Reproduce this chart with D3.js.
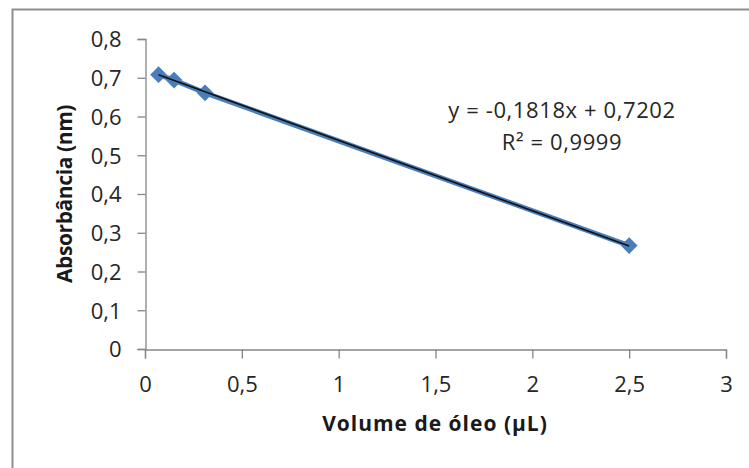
<!DOCTYPE html>
<html>
<head>
<meta charset="utf-8">
<script src="https://cdn.jsdelivr.net/npm/d3@7"></script>
<style>
  body { margin: 0; background: #fff; }
  text { font-family: "Open Sans", sans-serif; }
</style>
</head>
<body>
<div id="chart"></div>
<script>
// data
const volume = [0.07, 0.15, 0.31, 2.5];
const absorbance = [0.708, 0.694, 0.661, 0.267];
const xTicks = [0, 0.5, 1, 1.5, 2, 2.5, 3];
const yTicks = [0, 0.1, 0.2, 0.3, 0.4, 0.5, 0.6, 0.7, 0.8];
const slope = -0.1818;
const intercept = 0.7202;

const width = 749;
const height = 468;
const AXIS_COLOR = "#868686";
const MARK_COLOR = "#4a7ebb";

const fmt = d => String(d).replace(".", ",");

let svg = d3.select("#chart")
  .append("svg")
  .attr("width", width)
  .attr("height", height);

// chart frame (only top and left edges are inside the picture)
svg.append("path")
  .attr("d", `M12.5,${height} V9.5 H${width}`)
  .attr("fill", "none")
  .attr("stroke", "#8e8e8e")
  .attr("stroke-width", 2);

let x = d3.scaleLinear().domain([0, 3]).range([145, 726]);
let y = d3.scaleLinear().domain([0, 0.8]).range([349, 39]);

// y axis
let yAxis = svg.append("g")
  .attr("transform", "translate(145.5,0)")
  .call(d3.axisLeft(y).tickValues(yTicks).tickFormat(fmt).tickSize(8).tickPadding(16));
// x axis
let xAxis = svg.append("g")
  .attr("transform", "translate(0,349.5)")
  .call(d3.axisBottom(x).tickValues(xTicks).tickFormat(fmt).tickSize(9).tickPadding(17));

[yAxis, xAxis].forEach(function (g) {
  g.select(".domain").attr("stroke", AXIS_COLOR).attr("stroke-width", 1.3);
  g.selectAll(".tick line").attr("stroke", AXIS_COLOR).attr("stroke-width", 1.3);
  g.selectAll(".tick text")
    .attr("fill", "#262626")
    .style("font-size", "22px")
    .style("font-family", "'Open Sans', sans-serif");
});
xAxis.selectAll(".tick text").attr("dy", "0.75em");
yAxis.selectAll(".tick text").attr("dy", "0.36em");

let pts = volume.map((v, i) => [v, absorbance[i]]);

// series line
svg.append("path")
  .datum(pts)
  .attr("d", d3.line().x(d => x(d[0])).y(d => y(d[1])))
  .attr("fill", "none")
  .attr("stroke", MARK_COLOR)
  .attr("stroke-width", 5);

// markers
svg.append("g")
  .selectAll("path")
  .data(pts)
  .join("path")
  .attr("d", d3.symbol().type(d3.symbolDiamond2).size(180))
  .attr("transform", d => `translate(${x(d[0])},${y(d[1])})`)
  .attr("fill", MARK_COLOR);

// linear trendline
let x0 = d3.min(volume), x1 = d3.max(volume);
svg.append("line")
  .attr("x1", x(x0)).attr("y1", y(slope * x0 + intercept))
  .attr("x2", x(x1)).attr("y2", y(slope * x1 + intercept))
  .attr("stroke", "#111")
  .attr("stroke-width", 1.6);

// equation label
svg.append("text")
  .attr("x", 562).attr("y", 118)
  .attr("text-anchor", "middle")
  .style("font-size", "22px")
  .style("letter-spacing", "0.6px")
  .attr("fill", "#262626")
  .text("y = -0,1818x + 0,7202");
svg.append("text")
  .attr("x", 562).attr("y", 150)
  .attr("text-anchor", "middle")
  .style("font-size", "22px")
  .style("letter-spacing", "0.6px")
  .attr("fill", "#262626")
  .text("R² = 0,9999");

// axis titles
svg.append("text")
  .attr("x", 435).attr("y", 431)
  .attr("text-anchor", "middle")
  .style("font-size", "21px")
  .style("font-weight", "bold")
  .style("letter-spacing", "1px")
  .attr("fill", "#1a1a1a")
  .text("Volume de óleo (µL)");
svg.append("text")
  .attr("transform", "translate(72,194) rotate(-90)")
  .attr("text-anchor", "middle")
  .style("font-size", "21px")
  .style("font-weight", "bold")
  .style("letter-spacing", "-0.4px")
  .attr("fill", "#1a1a1a")
  .text("Absorbância (nm)");
</script>
</body>
</html>
